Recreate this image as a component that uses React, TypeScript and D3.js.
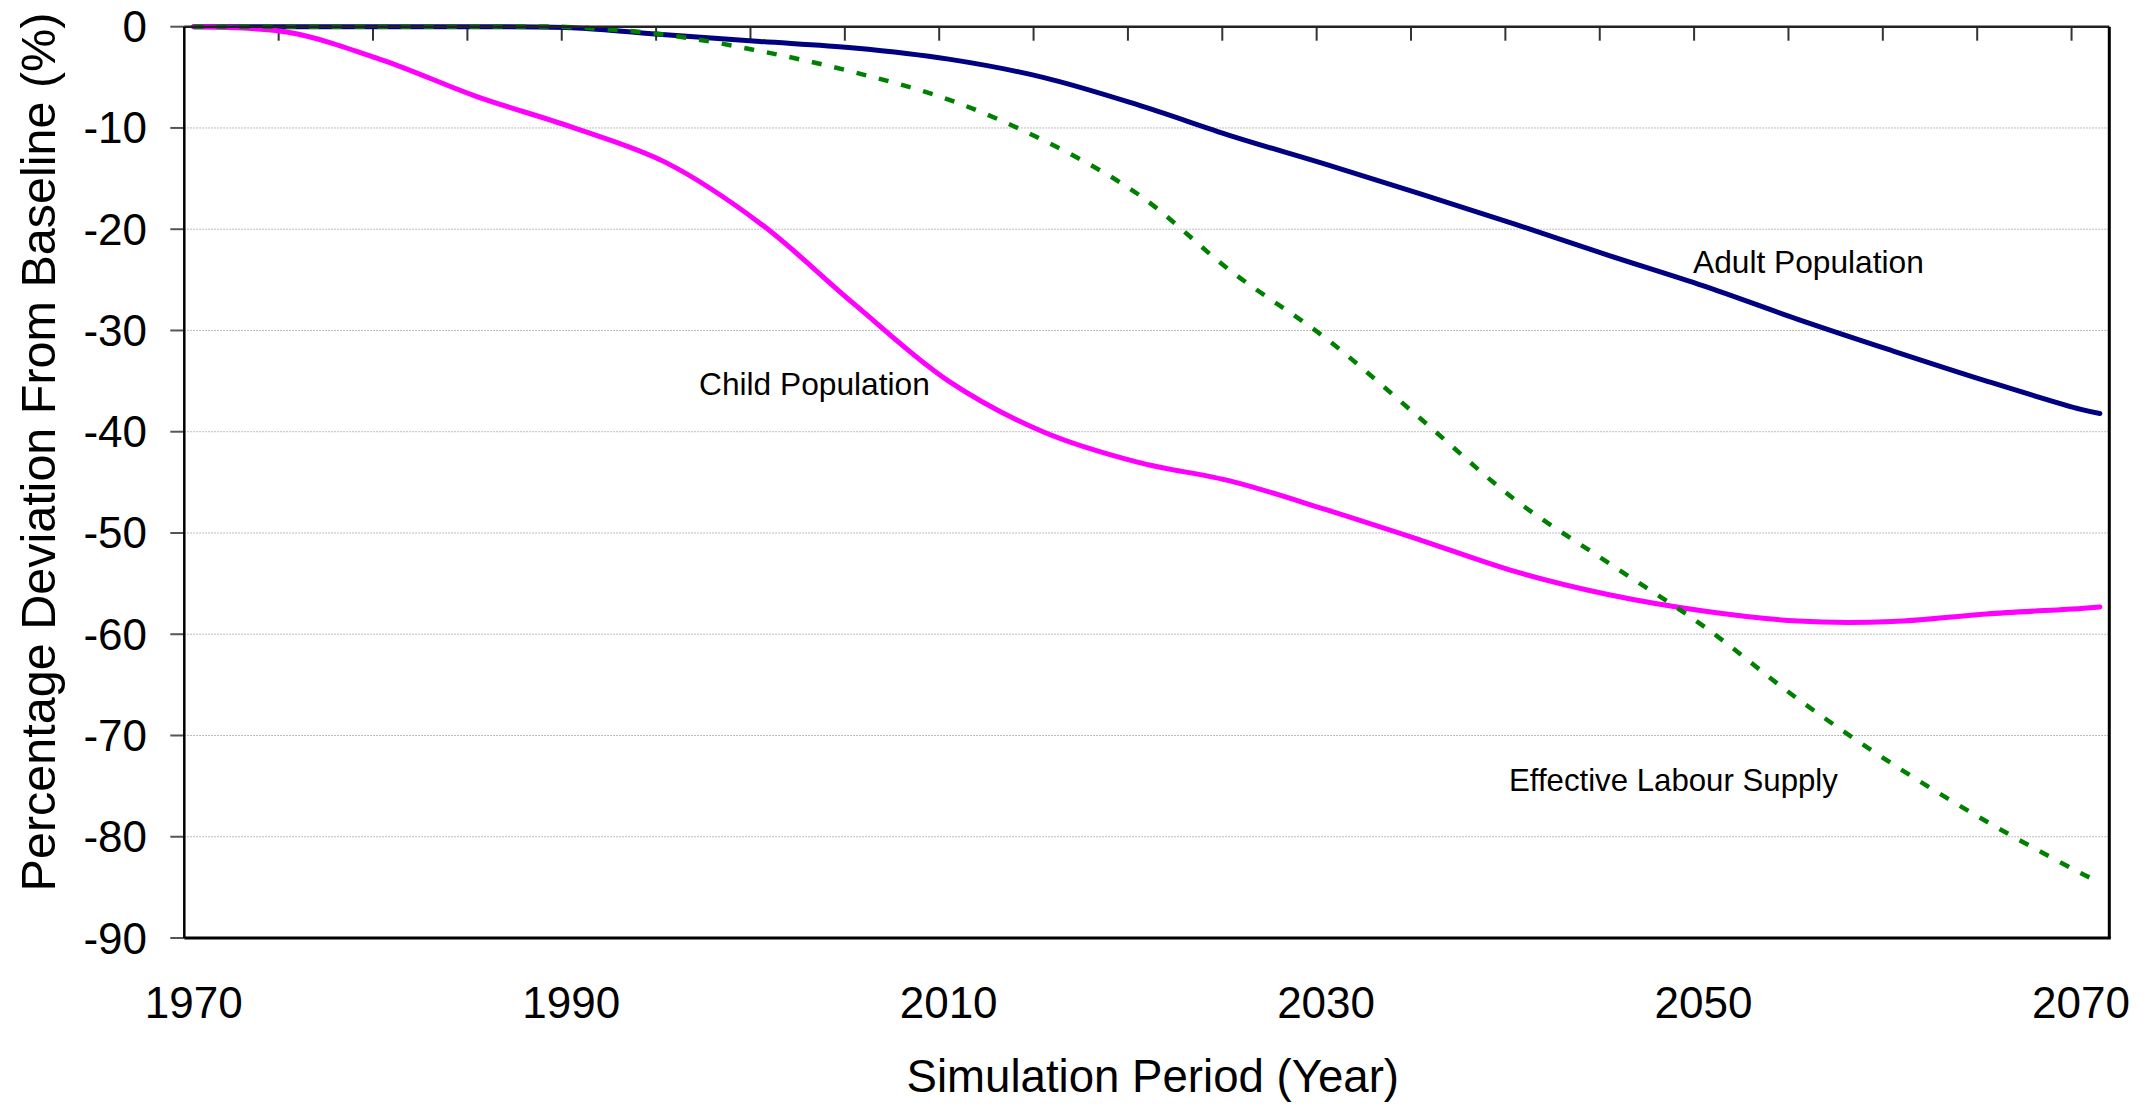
import * as d3 from 'd3';

// Yearly categories sampled every five years (last point 2071)
const years = [
  1970, 1975, 1980, 1985, 1990, 1995, 2000, 2005, 2010, 2015, 2020,
  2025, 2030, 2035, 2040, 2045, 2050, 2055, 2060, 2065, 2070, 2071,
];
const adultPopulation = [
  0, 0, 0, 0, -0.1, -0.8, -1.45, -2.1, -3.2, -5.0, -7.7,
  -10.8, -13.6, -16.5, -19.5, -22.6, -25.6, -28.9, -32.0, -35.0, -37.8, -38.2,
];
const childPopulation = [
  0, -0.55, -3.3, -6.9, -9.9, -13.4, -19.4, -27.4, -35.0, -40.0, -43.0,
  -44.9, -47.7, -50.7, -53.8, -56.1, -57.7, -58.7, -58.75, -58.0, -57.45, -57.3,
];
const effectiveLabourSupply = [
  0, 0, 0, 0, -0.05, -0.8, -2.4, -4.5, -7.2, -11.2, -16.5,
  -24.2, -30.8, -38.7, -46.7, -53.0, -59.2, -66.4, -72.8, -78.5, -83.6, -84.5,
];

const yTicks = [0, -10, -20, -30, -40, -50, -60, -70, -80, -90];
const xLabels = [1970, 1990, 2010, 2030, 2050, 2070];

const W = 2148;
const H = 1105;
const plot = { left: 184.3, right: 2109.3, top: 26.7, bottom: 938 };
const FONT = '"Liberation Sans", Arial, sans-serif';

const x = d3.scaleLinear().domain([1969.5, 2071.5]).range([plot.left, plot.right]);
const y = d3.scaleLinear().domain([0, -90]).range([plot.top, plot.bottom]);

const line = d3
  .line<number>()
  .x((_, i) => x(years[i]))
  .y((d) => y(d))
  .curve(d3.curveCatmullRom.alpha(0.5));

// category boundaries every 5 years
const catTicks = d3.range(1974.5, 2070, 5);

export default function App() {
  return (
    <svg
      width={W}
      height={H}
      style={{ position: 'absolute', left: 0, top: 0, background: '#fff' }}
      fontFamily={FONT}
    >
      <rect x={0} y={0} width={W} height={H} fill="#fff" />

      {/* gridlines */}
      {yTicks.slice(1, -1).map((t) => (
        <line
          key={`g${t}`}
          x1={plot.left}
          x2={plot.right}
          y1={y(t)}
          y2={y(t)}
          stroke="#a8a8a8"
          strokeWidth={1}
          strokeDasharray="1.5 1.5"
        />
      ))}

      {/* y ticks + labels */}
      {yTicks.map((t) => (
        <g key={`y${t}`}>
          <line x1={plot.left - 14} x2={plot.left} y1={y(t)} y2={y(t)} stroke="#555" strokeWidth={2} />
          <text x={147} y={y(t) + 15.5} textAnchor="end" fontSize={44} fill="#000">
            {t}
          </text>
        </g>
      ))}

      {/* category ticks on the top axis */}
      {catTicks.map((t) => (
        <line key={`c${t}`} x1={x(t)} x2={x(t)} y1={plot.top} y2={plot.top + 14} stroke="#333" strokeWidth={2} />
      ))}

      {/* x labels */}
      {xLabels.map((yr) => (
        <text key={`x${yr}`} x={x(yr)} y={1018} textAnchor="middle" fontSize={44} fill="#000">
          {yr}
        </text>
      ))}

      {/* series */}
      <path d={line(adultPopulation) ?? ''} fill="none" stroke="#000080" strokeWidth={5} strokeLinejoin="round" strokeLinecap="round" />
      <path d={line(childPopulation) ?? ''} fill="none" stroke="#ff00ff" strokeWidth={5} strokeLinejoin="round" strokeLinecap="round" />
      <path d={line(effectiveLabourSupply) ?? ''} fill="none" stroke="#008000" strokeWidth={4.5} strokeDasharray="10 13" />

      {/* frame */}
      <line x1={plot.left} x2={plot.right} y1={plot.top} y2={plot.top} stroke="#222" strokeWidth={2.5} />
      <line x1={plot.right} x2={plot.right} y1={plot.top} y2={plot.bottom} stroke="#000" strokeWidth={3} />
      <line x1={plot.left} x2={plot.right + 1.5} y1={plot.bottom} y2={plot.bottom} stroke="#000" strokeWidth={3} />
      <line x1={plot.left} x2={plot.left} y1={plot.top} y2={plot.bottom} stroke="#000" strokeWidth={2.5} />

      {/* annotations */}
      <text x={699} y={395} fontSize={31.7} fill="#000">Child Population</text>
      <text x={1693} y={273} fontSize={31.7} fill="#000">Adult Population</text>
      <text x={1509} y={791} fontSize={31.2} fill="#000">Effective Labour Supply</text>

      {/* axis titles */}
      <text x={(plot.left + plot.right) / 2 + 6} y={1092} textAnchor="middle" fontSize={45.6} fill="#000">
        Simulation Period (Year)
      </text>
      <text
        transform={`translate(55, 452) rotate(-90)`}
        textAnchor="middle"
        fontSize={48.5}
        fill="#000"
      >
        Percentage Deviation From Baseline (%)
      </text>
    </svg>
  );
}
